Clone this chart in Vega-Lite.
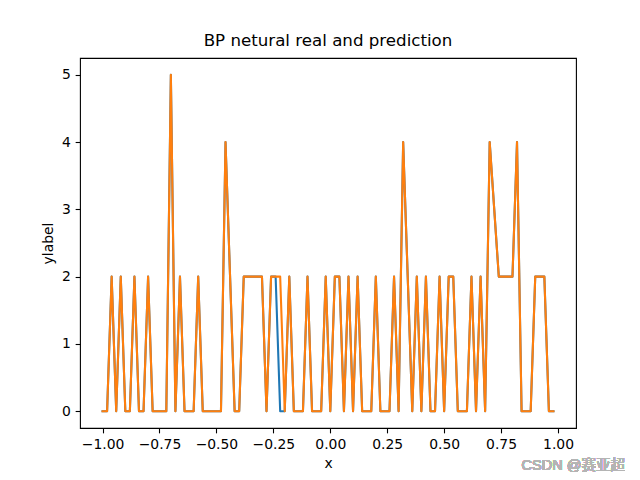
{
  "$schema": "https://vega.github.io/schema/vega-lite/v6.json",
  "autosize": {"type": "none"},
  "padding": {"left": 80, "top": 58, "right": 64, "bottom": 52},
  "width": 496,
  "height": 370,
  "title": {"text": "BP netural real and prediction", "font": "DejaVu Sans", "fontSize": 16.67, "fontWeight": "normal", "color": "#000", "offset": 8, "anchor": "middle"},
  "config": {
    "view": {"stroke": "#000", "strokeWidth": 1.1},
    "axis": {"grid": false, "domain": false, "labelFont": "DejaVu Sans", "labelFontSize": 13.9, "labelColor": "#000", "titleFont": "DejaVu Sans", "titleFontSize": 13.9, "titleFontWeight": "normal", "titleColor": "#000", "tickColor": "#000", "tickSize": 4.86, "tickWidth": 1.1, "labelPadding": 4.86}
  },
  "data": {"values": [
    {"x": -1.00, "real": 0, "prediction": 0},
    {"x": -0.98, "real": 0, "prediction": 0},
    {"x": -0.96, "real": 2, "prediction": 2},
    {"x": -0.94, "real": 0, "prediction": 0},
    {"x": -0.92, "real": 2, "prediction": 2},
    {"x": -0.90, "real": 0, "prediction": 0},
    {"x": -0.88, "real": 0, "prediction": 0},
    {"x": -0.86, "real": 2, "prediction": 2},
    {"x": -0.84, "real": 0, "prediction": 0},
    {"x": -0.82, "real": 0, "prediction": 0},
    {"x": -0.80, "real": 2, "prediction": 2},
    {"x": -0.78, "real": 0, "prediction": 0},
    {"x": -0.76, "real": 0, "prediction": 0},
    {"x": -0.74, "real": 0, "prediction": 0},
    {"x": -0.72, "real": 0, "prediction": 0},
    {"x": -0.70, "real": 5, "prediction": 5},
    {"x": -0.68, "real": 0, "prediction": 0},
    {"x": -0.66, "real": 2, "prediction": 2},
    {"x": -0.64, "real": 0, "prediction": 0},
    {"x": -0.62, "real": 0, "prediction": 0},
    {"x": -0.60, "real": 0, "prediction": 0},
    {"x": -0.58, "real": 2, "prediction": 2},
    {"x": -0.56, "real": 0, "prediction": 0},
    {"x": -0.54, "real": 0, "prediction": 0},
    {"x": -0.52, "real": 0, "prediction": 0},
    {"x": -0.50, "real": 0, "prediction": 0},
    {"x": -0.48, "real": 0, "prediction": 0},
    {"x": -0.46, "real": 4, "prediction": 4},
    {"x": -0.44, "real": 2, "prediction": 2},
    {"x": -0.42, "real": 0, "prediction": 0},
    {"x": -0.40, "real": 0, "prediction": 0},
    {"x": -0.38, "real": 2, "prediction": 2},
    {"x": -0.36, "real": 2, "prediction": 2},
    {"x": -0.34, "real": 2, "prediction": 2},
    {"x": -0.32, "real": 2, "prediction": 2},
    {"x": -0.30, "real": 2, "prediction": 2},
    {"x": -0.28, "real": 0, "prediction": 0},
    {"x": -0.26, "real": 2, "prediction": 2},
    {"x": -0.24, "real": 2, "prediction": 2},
    {"x": -0.22, "real": 0, "prediction": 2},
    {"x": -0.20, "real": 0, "prediction": 0},
    {"x": -0.18, "real": 2, "prediction": 2},
    {"x": -0.16, "real": 0, "prediction": 0},
    {"x": -0.14, "real": 0, "prediction": 0},
    {"x": -0.12, "real": 0, "prediction": 0},
    {"x": -0.10, "real": 2, "prediction": 2},
    {"x": -0.08, "real": 0, "prediction": 0},
    {"x": -0.06, "real": 0, "prediction": 0},
    {"x": -0.04, "real": 0, "prediction": 0},
    {"x": -0.02, "real": 2, "prediction": 2},
    {"x": 0.00, "real": 0, "prediction": 0},
    {"x": 0.02, "real": 2, "prediction": 2},
    {"x": 0.04, "real": 2, "prediction": 2},
    {"x": 0.06, "real": 0, "prediction": 0},
    {"x": 0.08, "real": 2, "prediction": 2},
    {"x": 0.10, "real": 0, "prediction": 0},
    {"x": 0.12, "real": 2, "prediction": 2},
    {"x": 0.14, "real": 0, "prediction": 0},
    {"x": 0.16, "real": 0, "prediction": 0},
    {"x": 0.18, "real": 0, "prediction": 0},
    {"x": 0.20, "real": 2, "prediction": 2},
    {"x": 0.22, "real": 0, "prediction": 0},
    {"x": 0.24, "real": 0, "prediction": 0},
    {"x": 0.26, "real": 0, "prediction": 0},
    {"x": 0.28, "real": 2, "prediction": 2},
    {"x": 0.30, "real": 0, "prediction": 0},
    {"x": 0.32, "real": 4, "prediction": 4},
    {"x": 0.34, "real": 2, "prediction": 2},
    {"x": 0.36, "real": 0, "prediction": 0},
    {"x": 0.38, "real": 2, "prediction": 2},
    {"x": 0.40, "real": 0, "prediction": 0},
    {"x": 0.42, "real": 2, "prediction": 2},
    {"x": 0.44, "real": 0, "prediction": 0},
    {"x": 0.46, "real": 0, "prediction": 0},
    {"x": 0.48, "real": 2, "prediction": 2},
    {"x": 0.50, "real": 0, "prediction": 0},
    {"x": 0.52, "real": 2, "prediction": 2},
    {"x": 0.54, "real": 2, "prediction": 2},
    {"x": 0.56, "real": 0, "prediction": 0},
    {"x": 0.58, "real": 0, "prediction": 0},
    {"x": 0.60, "real": 0, "prediction": 0},
    {"x": 0.62, "real": 2, "prediction": 2},
    {"x": 0.64, "real": 0, "prediction": 0},
    {"x": 0.66, "real": 2, "prediction": 2},
    {"x": 0.68, "real": 0, "prediction": 0},
    {"x": 0.70, "real": 4, "prediction": 4},
    {"x": 0.72, "real": 3, "prediction": 3},
    {"x": 0.74, "real": 2, "prediction": 2},
    {"x": 0.76, "real": 2, "prediction": 2},
    {"x": 0.78, "real": 2, "prediction": 2},
    {"x": 0.80, "real": 2, "prediction": 2},
    {"x": 0.82, "real": 4, "prediction": 4},
    {"x": 0.84, "real": 0, "prediction": 0},
    {"x": 0.86, "real": 0, "prediction": 0},
    {"x": 0.88, "real": 0, "prediction": 0},
    {"x": 0.90, "real": 2, "prediction": 2},
    {"x": 0.92, "real": 2, "prediction": 2},
    {"x": 0.94, "real": 2, "prediction": 2},
    {"x": 0.96, "real": 0, "prediction": 0},
    {"x": 0.98, "real": 0, "prediction": 0}
  ]},
  "layer": [
    {
      "mark": {"type": "line", "color": "#1f77b4", "strokeWidth": 2.08, "strokeJoin": "round", "strokeCap": "square"},
      "encoding": {
        "x": {"field": "x", "type": "quantitative", "scale": {"domain": [-1.099, 1.079], "nice": false, "zero": false}, "axis": {"title": "x", "values": [-1, -0.75, -0.5, -0.25, 0, 0.25, 0.5, 0.75, 1], "format": ".2f", "titlePadding": 5}},
        "y": {"field": "real", "type": "quantitative", "scale": {"domain": [-0.25, 5.25], "nice": false, "zero": false}, "axis": {"title": "ylabel", "values": [0, 1, 2, 3, 4, 5], "format": "d", "titlePadding": 6}}
      }
    },
    {
      "mark": {"type": "line", "color": "#ff7f0e", "strokeWidth": 2.08, "strokeJoin": "round", "strokeCap": "square"},
      "encoding": {
        "x": {"field": "x", "type": "quantitative"},
        "y": {"field": "prediction", "type": "quantitative"}
      }
    },
    {
      "mark": {"type": "text", "text": "CSDN @赛亚超", "font": "Liberation Sans, Noto Sans CJK SC", "fontSize": 14.5, "fontWeight": "normal", "color": "#b4b4b4", "align": "right", "baseline": "alphabetic", "clip": false},
      "encoding": {
        "x": {"datum": 1.294, "type": "quantitative"},
        "y": {"datum": -0.88, "type": "quantitative"}
      }
    }
  ]
}
